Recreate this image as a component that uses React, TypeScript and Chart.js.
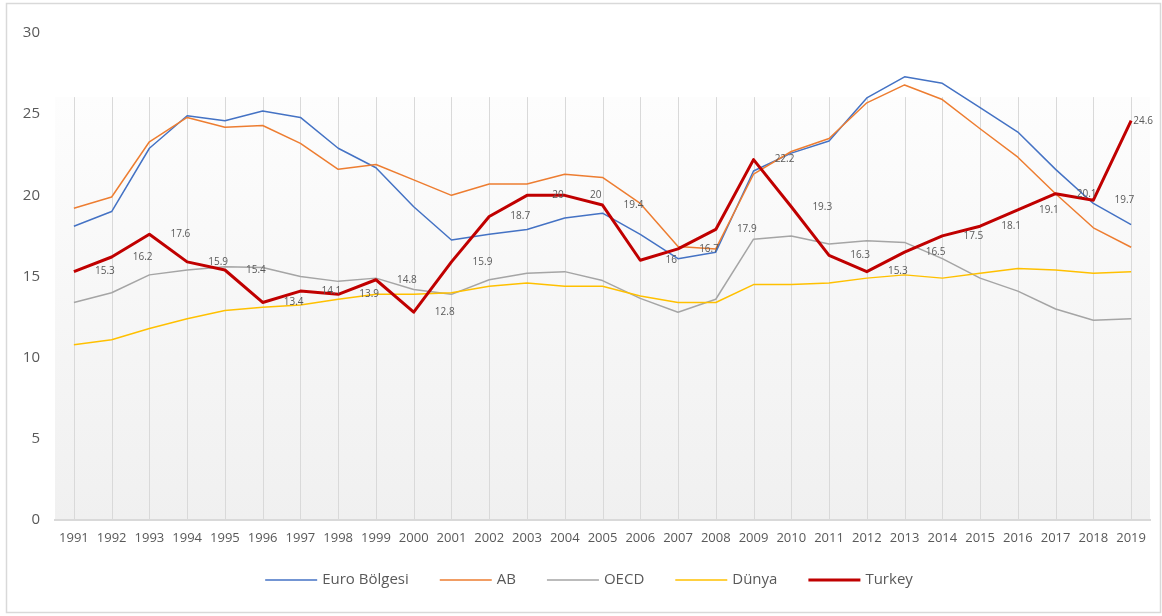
import React, { useEffect, useRef } from "react";
import { Chart, registerables } from "chart.js";

Chart.register(...registerables);

const years = [
  "1991", "1992", "1993", "1994", "1995", "1996", "1997", "1998", "1999", "2000",
  "2001", "2002", "2003", "2004", "2005", "2006", "2007", "2008", "2009", "2010",
  "2011", "2012", "2013", "2014", "2015", "2016", "2017", "2018", "2019",
];

const euroBolgesi = [
  18.1, 19.0, 22.9, 24.9, 24.6, 25.2, 24.8, 22.9, 21.7, 19.3,
  17.25, 17.6, 17.9, 18.6, 18.9, 17.6, 16.1, 16.5, 21.5, 22.6,
  23.35, 26.0, 27.3, 26.9, 25.4, 23.9, 21.6, 19.5, 18.2,
];

const ab = [
  19.2, 19.9, 23.3, 24.8, 24.2, 24.3, 23.2, 21.6, 21.9, 20.95,
  20.0, 20.7, 20.7, 21.3, 21.1, 19.5, 16.85, 16.7, 21.3, 22.7,
  23.5, 25.7, 26.8, 25.9, 24.1, 22.35, 20.1, 18.0, 16.8,
];

const oecd = [
  13.4, 14.0, 15.1, 15.4, 15.6, 15.55, 15.0, 14.7, 14.9, 14.2,
  13.9, 14.8, 15.2, 15.3, 14.75, 13.65, 12.8, 13.6, 17.3, 17.5,
  17.0, 17.2, 17.1, 16.1, 14.9, 14.1, 13.0, 12.3, 12.4,
];

const dunya = [
  10.8, 11.1, 11.8, 12.4, 12.9, 13.1, 13.25, 13.6, 13.9, 13.9,
  14.0, 14.4, 14.6, 14.4, 14.4, 13.8, 13.4, 13.4, 14.5, 14.5,
  14.6, 14.9, 15.1, 14.9, 15.2, 15.5, 15.4, 15.2, 15.3,
];

const turkey = [
  15.3, 16.2, 17.6, 15.9, 15.4, 13.4, 14.1, 13.9, 14.8, 12.8,
  15.9, 18.7, 20, 20, 19.4, 16, 16.7, 17.9, 22.2, 19.3,
  16.3, 15.3, 16.5, 17.5, 18.1, 19.1, 20.1, 19.7, 24.6,
];

const seriesNames = ["Euro Bölgesi", "AB", "OECD", "Dünya", "Turkey"];
const seriesColors = ["#4472C4", "#ED7D31", "#A5A5A5", "#FFC000", "#C00000"];
const seriesWidths = [1.5, 1.5, 1.5, 1.5, 3];

const FONT = "'Open Sans', 'Noto Sans', sans-serif";
const TEXT_COLOR = "#595959";

const decorPlugin = {
  id: "decor",
  beforeDraw(chart: any) {
    const { ctx, chartArea, scales } = chart;
    ctx.save();
    ctx.fillStyle = "#ffffff";
    ctx.fillRect(0, 0, chart.width, chart.height);
    // plot-area gradient fill
    const top = scales.y.getPixelForValue(26.05);
    const g = ctx.createLinearGradient(0, top, 0, chartArea.bottom);
    g.addColorStop(0, "#fdfdfd");
    g.addColorStop(1, "#f0f0f0");
    ctx.fillStyle = g;
    ctx.fillRect(chartArea.left, top, chartArea.right - chartArea.left, chartArea.bottom - top);
    // vertical grid lines
    ctx.strokeStyle = "#d9d9d9";
    ctx.lineWidth = 1;
    const xs = scales.x;
    for (let i = 0; i < years.length; i++) {
      const x = Math.round(xs.getPixelForValue(i)) + 0.5;
      ctx.beginPath();
      ctx.moveTo(x, top);
      ctx.lineTo(x, chartArea.bottom);
      ctx.stroke();
    }
    ctx.restore();
  },
  afterDatasetsDraw(chart: any) {
    const { ctx, chartArea } = chart;
    const idx = 4;
    const meta = chart.getDatasetMeta(idx);
    ctx.save();
    ctx.font = `10px ${FONT}`;
    ctx.fillStyle = TEXT_COLOR;
    ctx.textAlign = "center";
    ctx.textBaseline = "middle";
    meta.data.forEach((pt: any, i: number) => {
      const txt = String(turkey[i]);
      const w = ctx.measureText(txt).width;
      const x = Math.min(pt.x + 31, chartArea.right + 3 - w / 2);
      ctx.fillText(txt, x, pt.y);
    });
    ctx.restore();
  },
  afterDraw(chart: any) {
    const { ctx } = chart;
    ctx.save();
    // legend
    ctx.font = `15px ${FONT}`;
    ctx.textBaseline = "middle";
    ctx.textAlign = "left";
    const lineLen = 52;
    const gap = 5;
    const itemGap = 31;
    const widths = seriesNames.map((n) => ctx.measureText(n).width);
    const total = widths.reduce((a, w) => a + lineLen + gap + w, 0) + itemGap * (seriesNames.length - 1);
    let x = 589 - total / 2;
    const y = 580;
    seriesNames.forEach((n, i) => {
      ctx.strokeStyle = seriesColors[i];
      ctx.lineWidth = seriesWidths[i];
      ctx.beginPath();
      ctx.moveTo(x, y);
      ctx.lineTo(x + lineLen, y);
      ctx.stroke();
      ctx.fillStyle = TEXT_COLOR;
      ctx.fillText(n, x + lineLen + gap, y);
      x += lineLen + gap + widths[i] + itemGap;
    });
    // outer border
    ctx.strokeStyle = "#d9d9d9";
    ctx.lineWidth = 1.5;
    ctx.strokeRect(6.5, 3.5, 1154, 609);
    ctx.restore();
  },
};

export default function App() {
  const ref = useRef<HTMLCanvasElement | null>(null);

  useEffect(() => {
    document.body.style.margin = "0";
    const canvas = ref.current;
    if (!canvas) return;
    const seriesData = [euroBolgesi, ab, oecd, dunya, turkey];
    const chart = new Chart(canvas, {
      type: "line",
      data: {
        labels: years,
        datasets: seriesNames.map((name, i) => ({
          label: name,
          data: seriesData[i],
          borderColor: seriesColors[i],
          backgroundColor: seriesColors[i],
          borderWidth: seriesWidths[i],
          pointRadius: 0,
          pointHoverRadius: 0,
          tension: 0,
          fill: false,
          order: 5 - i,
          borderJoinStyle: "round" as const,
        })),
      },
      options: {
        responsive: false,
        animation: false,
        devicePixelRatio: 1,
        layout: { padding: { left: 0, right: 12, top: 33, bottom: 0 } },
        plugins: {
          legend: { display: false },
          tooltip: { enabled: false },
        },
        scales: {
          x: {
            type: "category",
            offset: true,
            grid: { display: false, drawTicks: false },
            border: { display: true, color: "#d9d9d9", width: 2 },
            ticks: {
              color: TEXT_COLOR,
              font: { family: FONT, size: 13 },
              padding: 10,
              autoSkip: false,
              maxRotation: 0,
            },
            afterFit: (s: any) => {
              s.height = 96;
            },
          },
          y: {
            min: 0,
            max: 30,
            grid: { display: false, drawTicks: false },
            border: { display: false },
            ticks: {
              stepSize: 5,
              color: TEXT_COLOR,
              font: { family: FONT, size: 15 },
              padding: 15,
            },
            afterFit: (s: any) => {
              s.width = 55;
            },
          },
        },
      },
      plugins: [decorPlugin],
    });
    return () => chart.destroy();
  }, []);

  return (
    <div style={{ width: 1162, height: 616 }}>
      <canvas ref={ref} width={1162} height={616} style={{ display: "block", width: 1162, height: 616 }} />
    </div>
  );
}
